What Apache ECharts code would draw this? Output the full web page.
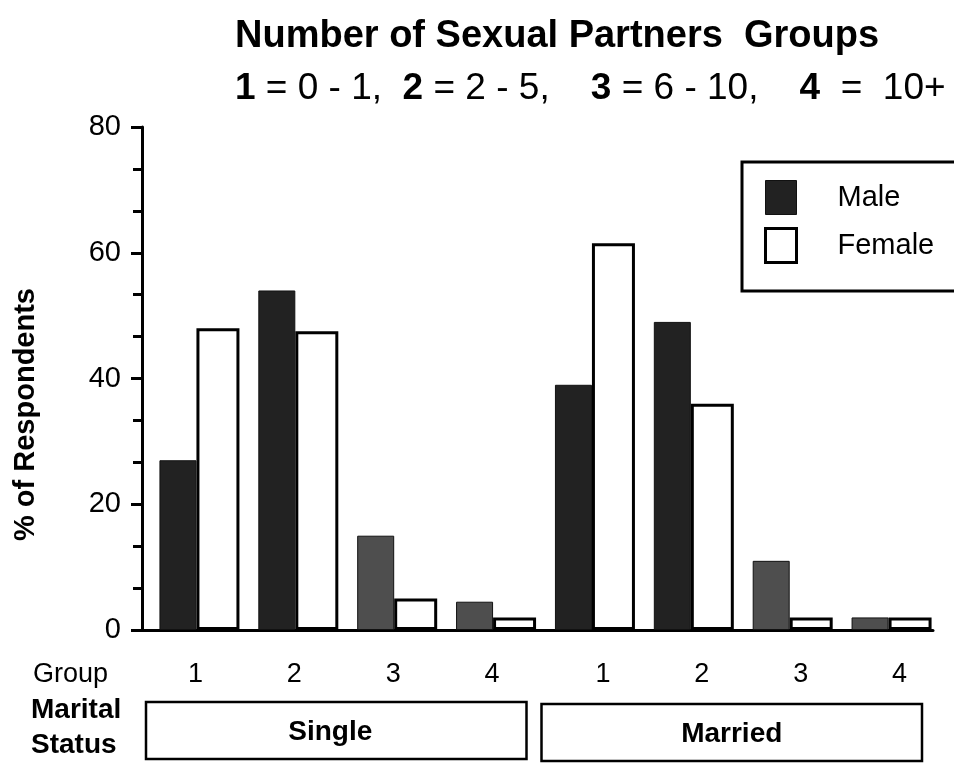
<!DOCTYPE html>
<html>
<head>
<meta charset="utf-8">
<script src="https://cdn.jsdelivr.net/npm/echarts@6/dist/echarts.min.js"></script>
<style>
  html, body { margin: 0; padding: 0; background: #fff; }
  #main { width: 954px; height: 765px; }
</style>
</head>
<body>
<div id="main"></div>
<script>
// data
var groups = ['1', '2', '3', '4', '1', '2', '3', '4'];
var statusNames = ['Single', 'Married'];
var maleVals = [27, 54, 15, 4.5, 39, 49, 11, 2];
var femaleVals = [48, 47.5, 5, 2, 61.5, 36, 2, 2];
var yTicks = [0, 80, 20]; // min, max, interval

var FONT = '"Liberation Sans", Arial, sans-serif';
var MALE_DARK = '#222';
var MALE_LIGHT = '#4e4e4e';

window.onload = function() {
	var myChart = echarts.init(document.getElementById('main'));

	var option = {
		animation: false,
		backgroundColor: '#fff',
		textStyle: { fontFamily: FONT, color: '#000' },
		title: {
			left: 230,
			top: 13,
			text: 'Number of Sexual Partners  Groups',
			textStyle: { fontFamily: FONT, fontSize: 38, fontWeight: 'bold', color: '#000' },
			subtext: '{b|1} = 0 - 1,  {b|2} = 2 - 5,    {b|3} = 6 - 10,    {b|4}  =  10+',
			subtextStyle: {
				fontFamily: FONT, fontSize: 37, color: '#000',
				rich: { b: { fontFamily: FONT, fontSize: 37, fontWeight: 'bold', color: '#000' } }
			},
			itemGap: 14
		},
		legend: {
			data: [
				{ name: 'Male', icon: 'rect', itemStyle: { color: MALE_DARK, borderColor: '#111', borderWidth: 1 } },
				{ name: 'Female', icon: 'rect', itemStyle: { color: '#fff', borderColor: '#000', borderWidth: 3 } }
			],
			orient: 'vertical',
			left: 742,
			top: 162,
			itemWidth: 31,
			itemHeight: 34,
			itemGap: 12,
			padding: [18, 80, 27, 22],
			borderColor: '#000',
			borderWidth: 3,
			backgroundColor: '#fff',
			textStyle: { fontFamily: FONT, fontSize: 29, color: '#000', padding: [0, 0, 0, 36] }
		},
		grid: { left: 142, right: 21, top: 127, bottom: 135, outerBoundsMode: 'none', containLabel: false },
		xAxis: {
			type: 'category',
			data: groups,
			axisLine: { lineStyle: { color: '#000', width: 3 } },
			axisTick: { length: 11, lineStyle: { color: '#000', width: 3 } },
			axisLabel: {
				fontFamily: FONT, fontSize: 27, color: '#000', margin: 31,
				formatter: function(v, i) {
					return (i < 4 ? '{s|' : '{m|') + v + '}';
				},
				rich: {
					s: { fontFamily: FONT, fontSize: 27, color: '#000', padding: [0, 0, 0, 8] },
					m: { fontFamily: FONT, fontSize: 27, color: '#000', padding: [0, 0, 0, 32] }
				}
			}
		},
		yAxis: {
			type: 'value',
			min: yTicks[0],
			max: yTicks[1],
			interval: yTicks[2],
			name: '% of Respondents',
			nameLocation: 'middle',
			nameRotate: 90,
			nameGap: 102,
			nameTextStyle: { fontFamily: FONT, fontSize: 29, fontWeight: 'bold', color: '#000', padding: [0, 72, 0, 0] },
			splitLine: { show: false },
			axisLine: { show: true, lineStyle: { color: '#000', width: 3 } },
			axisTick: { show: true, length: 11, lineStyle: { color: '#000', width: 3 } },
			minorTick: { show: true, splitNumber: 3, length: 9, lineStyle: { color: '#000', width: 3 } },
			axisLabel: { fontFamily: FONT, fontSize: 29, color: '#000', margin: 21 }
		},
		series: [
			{
				// empty spacer so the pairs sit right of the category centre like the original
				name: 'spacer',
				type: 'bar',
				barWidth: 16,
				data: groups.map(function() { return null; }),
				silent: true
			},
			{
				name: 'Male',
				type: 'bar',
				barWidth: 37,
				data: maleVals,
				itemStyle: {
					color: function(p) {
						return p.dataIndex % 4 >= 2 ? MALE_LIGHT : MALE_DARK;
					},
					borderColor: '#111',
					borderWidth: 1
				}
			},
			{
				name: 'Female',
				type: 'bar',
				barWidth: 43,
				barGap: '0%',
				data: femaleVals,
				itemStyle: { color: '#fff', borderColor: '#000', borderWidth: 3 }
			}
		]
	};

	myChart.setOption(option);

	// status boxes under the group labels, placed from the axis scale
	var c0 = myChart.convertToPixel({ xAxisIndex: 0 }, 0);
	var c1 = myChart.convertToPixel({ xAxisIndex: 0 }, 1);
	var band = c1 - c0;
	var graphics = [
		{ type: 'text', left: 33, top: 661, style: { text: 'Group', font: '27px ' + FONT, fill: '#000' } },
		{ type: 'text', left: 31, top: 696, style: { text: 'Marital', font: 'bold 28px ' + FONT, fill: '#000' } },
		{ type: 'text', left: 31, top: 731, style: { text: 'Status', font: 'bold 28px ' + FONT, fill: '#000' } }
	];
	statusNames.forEach(function(nm, i) {
		var x0 = myChart.convertToPixel({ xAxisIndex: 0 }, i * 4) - band / 2 + 4;
		var x1 = myChart.convertToPixel({ xAxisIndex: 0 }, i * 4 + 3) + band / 2 - 11;
		var y0 = 702 + i * 2;
		graphics.push({
			type: 'rect',
			shape: { x: x0, y: y0, width: x1 - x0, height: 57 },
			style: { fill: '#fff', stroke: '#000', lineWidth: 2.5 }
		});
		graphics.push({
			type: 'text',
			x: (x0 + x1) / 2 - (i === 0 ? 6 : 0),
			y: y0 + 30,
			style: { text: nm, font: 'bold 28px ' + FONT, fill: '#000', align: 'center', verticalAlign: 'middle' }
		});
	});
	myChart.setOption({ graphic: graphics });
};
</script>
</body>
</html>
